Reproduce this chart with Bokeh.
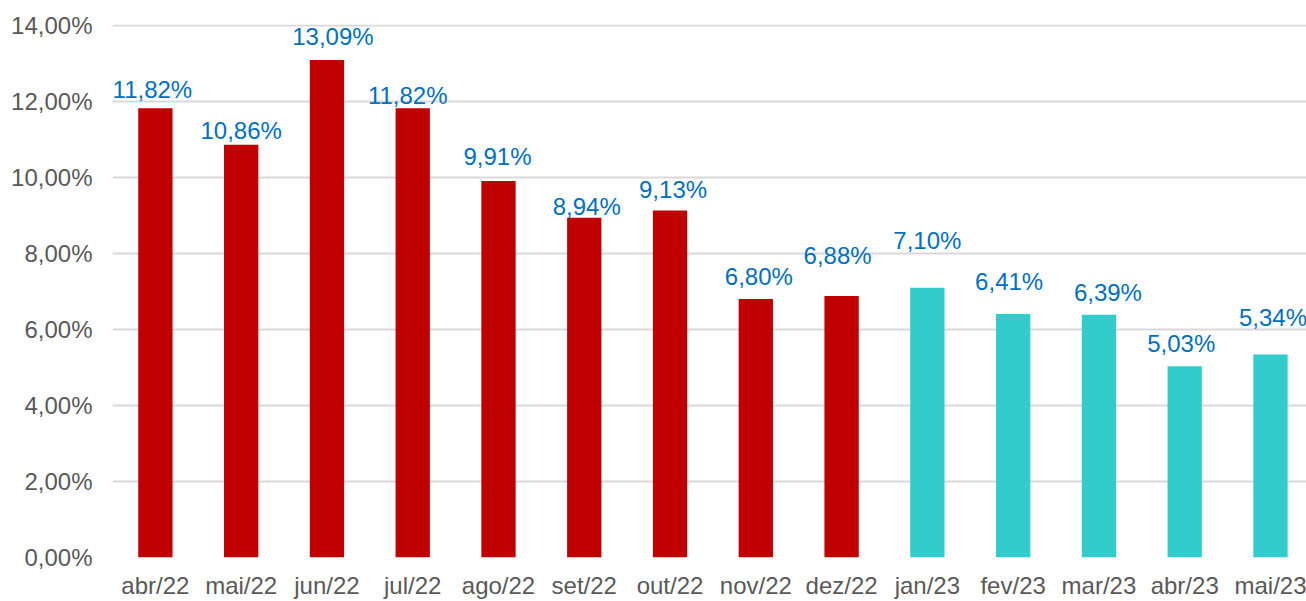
from bokeh.plotting import figure
from bokeh.models import ColumnDataSource, Range1d, FixedTicker
from bokeh.core.properties import value
from bokeh.embed import file_html
from bokeh.resources import INLINE

months = ["abr/22", "mai/22", "jun/22", "jul/22", "ago/22", "set/22", "out/22",
          "nov/22", "dez/22", "jan/23", "fev/23", "mar/23", "abr/23", "mai/23"]
rates = [11.82, 10.86, 13.09, 11.82, 9.91, 8.94, 9.13, 6.80, 6.88, 7.10, 6.41, 6.39, 5.03, 5.34]
y_ticks = [0, 2, 4, 6, 8, 10, 12, 14]
y_tick_labels = ["0,00%", "2,00%", "4,00%", "6,00%", "8,00%", "10,00%", "12,00%", "14,00%"]

RED = "#C00000"
TEAL = "#33CCCC"
FONT = "Liberation Sans"

# per-label screen nudges (pixels) copying the manual label placement of the original
label_dx = [-3, 0, 6, -5, -1, 2.5, 3, 3, -4, 0, -4, 9, -3.5, 2.5]
label_dy = [-19, -14, -24, -13, -24, -11, -21, -23, -41, -47, -32, -22, -23, -37]

xs = list(range(len(months)))
colors = [RED if m.endswith("22") else TEAL for m in months]
labels = [f"{v:.2f}".replace(".", ",") + "%" for v in rates]

src = ColumnDataSource(dict(x=xs, top=rates, color=colors, label=labels,
                            dx=label_dx, dy=label_dy))

p = figure(width=1306, height=601, output_backend="svg", toolbar_location=None,
           x_range=Range1d(-0.5, 13.42), y_range=Range1d(0, 14.026),
           min_border_left=112, min_border_right=0, min_border_top=24, min_border_bottom=44)
p.outline_line_color = None
p.background_fill_color = "white"
p.border_fill_color = "white"

p.vbar(x="x", top="top", width=0.4, bottom=0, fill_color="color", line_color=None, source=src)
p.text(x="x", y="top", text="label", source=src, text_align="center",
       text_baseline="alphabetic", x_offset="dx", y_offset="dy",
       text_font=value(FONT), text_font_size="24px", text_color="#0070C0")

p.xgrid.grid_line_color = None
p.ygrid.grid_line_color = "#D9D9D9"
p.ygrid.grid_line_width = 2
p.yaxis.ticker = FixedTicker(ticks=y_ticks)
p.yaxis.major_label_overrides = {t: l for t, l in zip(y_ticks, y_tick_labels)}
p.xaxis.ticker = FixedTicker(ticks=xs)
p.xaxis.major_label_overrides = {i: m for i, m in enumerate(months)}

for ax in (p.xaxis, p.yaxis):
    ax.axis_line_color = None
    ax.major_tick_line_color = None
    ax.minor_tick_line_color = None
    ax.major_tick_out = 0
    ax.major_tick_in = 0
    ax.major_label_text_font = FONT
    ax.major_label_text_font_size = "24px"
    ax.major_label_text_color = "#595959"
p.yaxis.major_label_standoff = 20
p.xaxis.major_label_standoff = 14

open("out.html", "w").write(file_html(p, INLINE))
